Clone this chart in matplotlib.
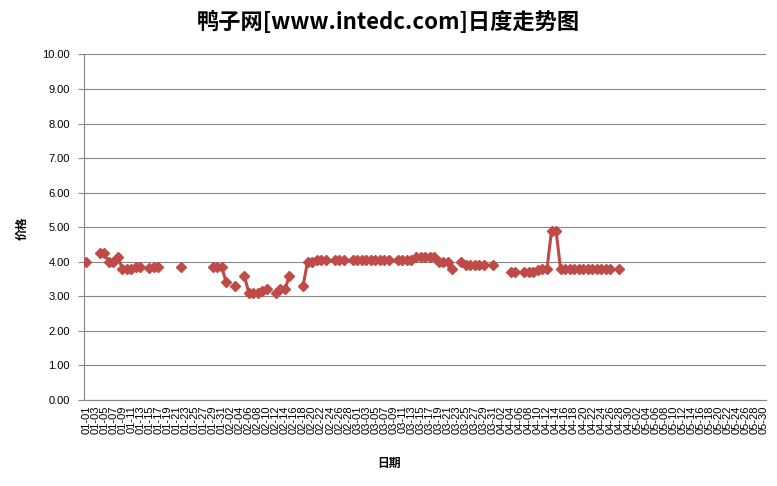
import numpy as np
import pandas as pd
import matplotlib
matplotlib.use("Agg")
import matplotlib.pyplot as plt

plt.rcParams['font.family'] = ['Noto Sans CJK SC', 'DejaVu Sans']

# daily prices (missing days are simply left out)
dates = [
    "01-01", "01-04", "01-05", "01-06", "01-07", "01-08", "01-09", "01-10",
    "01-11", "01-12", "01-13", "01-15", "01-16", "01-17", "01-22", "01-29",
    "01-30", "01-31",
    "02-01", "02-03", "02-05", "02-06", "02-07", "02-08", "02-09", "02-10",
    "02-12", "02-13", "02-14", "02-15", "02-18", "02-19", "02-20", "02-21",
    "02-22", "02-23", "02-25", "02-26", "02-27", "02-29",
    "03-01", "03-02", "03-03", "03-04", "03-05", "03-06", "03-07", "03-08",
    "03-10", "03-11", "03-12", "03-13", "03-14", "03-15", "03-16", "03-17",
    "03-18", "03-19", "03-20", "03-21", "03-22", "03-24", "03-25", "03-26",
    "03-27", "03-28", "03-29", "03-31",
    "04-04", "04-05", "04-07", "04-08", "04-09", "04-10", "04-11", "04-12",
    "04-13", "04-14", "04-15", "04-16", "04-17", "04-18", "04-19", "04-20",
    "04-21", "04-22", "04-23", "04-24", "04-25", "04-26", "04-28",
]
prices = [
    4.00, 4.25, 4.25, 4.00, 4.00, 4.15, 3.80, 3.80,
    3.80, 3.85, 3.85, 3.82, 3.85, 3.85, 3.85, 3.85,
    3.85, 3.85,
    3.40, 3.30, 3.60, 3.10, 3.10, 3.10, 3.15, 3.20,
    3.10, 3.20, 3.20, 3.60, 3.30, 4.00, 4.00, 4.05,
    4.05, 4.05, 4.05, 4.05, 4.05, 4.05,
    4.05, 4.05, 4.05, 4.05, 4.05, 4.05, 4.05, 4.05,
    4.05, 4.05, 4.05, 4.05, 4.15, 4.15, 4.15, 4.15,
    4.15, 4.00, 4.00, 4.00, 3.80, 4.00, 3.90, 3.90,
    3.90, 3.90, 3.90, 3.90,
    3.70, 3.70, 3.70, 3.70, 3.70, 3.75, 3.80, 3.80,
    4.90, 4.90, 3.80, 3.80, 3.80, 3.80, 3.80, 3.80,
    3.80, 3.80, 3.80, 3.80, 3.80, 3.80, 3.80,
]

start, end = "2012-01-01", "2012-05-30"
y_ticks = np.arange(0, 10.5, 1.0)

# full calendar so empty days leave gaps in the line
cal = pd.date_range(start, end, freq="D")
s = pd.Series(prices, index=pd.to_datetime(["2012-" + d for d in dates]))
s = s.reindex(cal)
x = np.arange(len(cal))

fig = plt.figure(figsize=(7.77, 4.86), dpi=100)
ax = fig.add_axes([0.108, 0.177, 0.878, 0.711])

ax.plot(x, s.values, color="#BE4B48", lw=2.2, marker="D", ms=5.5,
        markeredgecolor="#BE4B48", zorder=3)

ax.set_ylim(0, 10)
ax.set_yticks(y_ticks)
ax.set_yticklabels([f"{v:.2f}" for v in y_ticks], fontsize=8,
                   family=['Liberation Sans', 'DejaVu Sans'])
ax.yaxis.grid(True, color="#878787", lw=0.8)
ax.set_axisbelow(True)

ax.set_xlim(-0.5, len(cal) - 0.5)
ax.set_xticks(x[::2])
ax.set_xticklabels(cal[::2].strftime("%m-%d"), rotation=90, fontsize=8,
                   family=['Liberation Sans', 'DejaVu Sans'])
ax.tick_params(axis="x", length=0, pad=4)
ax.tick_params(axis="y", length=4, color="#878787", pad=6)

for side in ["top", "right"]:
    ax.spines[side].set_visible(False)
for side in ["left", "bottom"]:
    ax.spines[side].set_color("#878787")
    ax.spines[side].set_linewidth(0.8)

fig.text(0.5, 0.953, "鸭子网[www.intedc.com]日度走势图", ha="center", va="center",
         fontsize=16, fontweight="bold")
fig.text(0.5, 0.047, "日期", ha="center", va="center", fontsize=8.5, fontweight="bold")
fig.text(0.029, 0.53, "价格", ha="center", va="center", fontsize=8.5,
         fontweight="bold", rotation=90)

fig.savefig("out.png", dpi=100)
